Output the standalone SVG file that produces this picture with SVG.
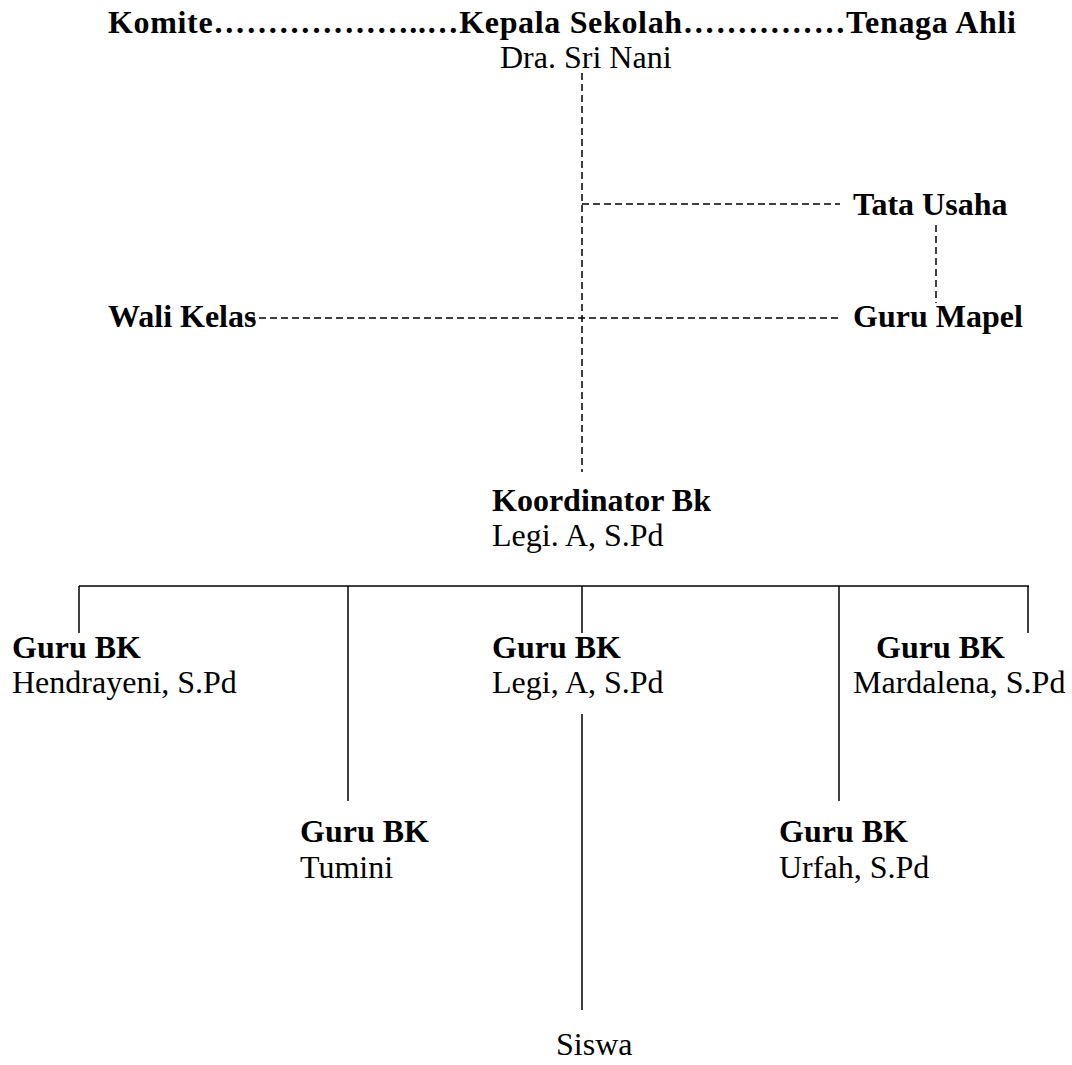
<svg xmlns="http://www.w3.org/2000/svg" width="1072" height="1065" viewBox="0 0 1072 1065">
<style>
text{font-family:"Liberation Serif","Times New Roman",serif;font-size:32px;fill:#000}
.b{font-weight:bold}
.d{stroke:#000;stroke-width:1.5;stroke-dasharray:7 4;fill:none}
.s{stroke:#000;stroke-width:1.5;fill:none}
</style>
<rect width="1072" height="1065" fill="#fff"/>
<g id="connectors">
<line class="d" x1="582" y1="73" x2="582" y2="472"/>
<line class="d" x1="582" y1="204" x2="840" y2="204"/>
<line class="d" x1="936" y1="225" x2="936" y2="303"/>
<line class="d" x1="248" y1="318" x2="840" y2="318"/>
<line class="s" x1="79" y1="586" x2="1029" y2="586"/>
<line class="s" x1="79" y1="586" x2="79" y2="633"/>
<line class="s" x1="348" y1="586" x2="348" y2="801"/>
<line class="s" x1="582" y1="586" x2="582" y2="633"/>
<line class="s" x1="839" y1="586" x2="839" y2="801"/>
<line class="s" x1="1028" y1="586" x2="1028" y2="633"/>
<line class="s" x1="582" y1="714" x2="582" y2="1010"/>
</g>
<g id="header"><text class="b" x="108" y="33" textLength="908" lengthAdjust="spacing">Komite………………..…Kepala Sekolah……………Tenaga Ahli</text></g>
<g id="kepala"><text x="500" y="68">Dra. Sri Nani</text></g>
<g id="tata-usaha"><text class="b" x="853" y="215">Tata Usaha</text></g>
<g id="wali-kelas"><text class="b" x="108" y="327">Wali Kelas</text></g>
<g id="guru-mapel"><text class="b" x="853" y="327">Guru Mapel</text></g>
<g id="koordinator"><text class="b" x="492" y="511">Koordinator Bk</text><text x="492" y="546">Legi. A, S.Pd</text></g>
<g id="bk-hendrayeni"><text class="b" x="12" y="658">Guru BK</text><text x="12" y="693">Hendrayeni, S.Pd</text></g>
<g id="bk-legi"><text class="b" x="492" y="658">Guru BK</text><text x="492" y="693">Legi, A, S.Pd</text></g>
<g id="bk-mardalena"><text class="b" x="876" y="658">Guru BK</text><text x="853" y="693">Mardalena, S.Pd</text></g>
<g id="bk-tumini"><text class="b" x="300" y="842">Guru BK</text><text x="300" y="878">Tumini</text></g>
<g id="bk-urfah"><text class="b" x="779" y="842">Guru BK</text><text x="779" y="878">Urfah, S.Pd</text></g>
<g id="siswa"><text x="556" y="1055">Siswa</text></g>
</svg>
